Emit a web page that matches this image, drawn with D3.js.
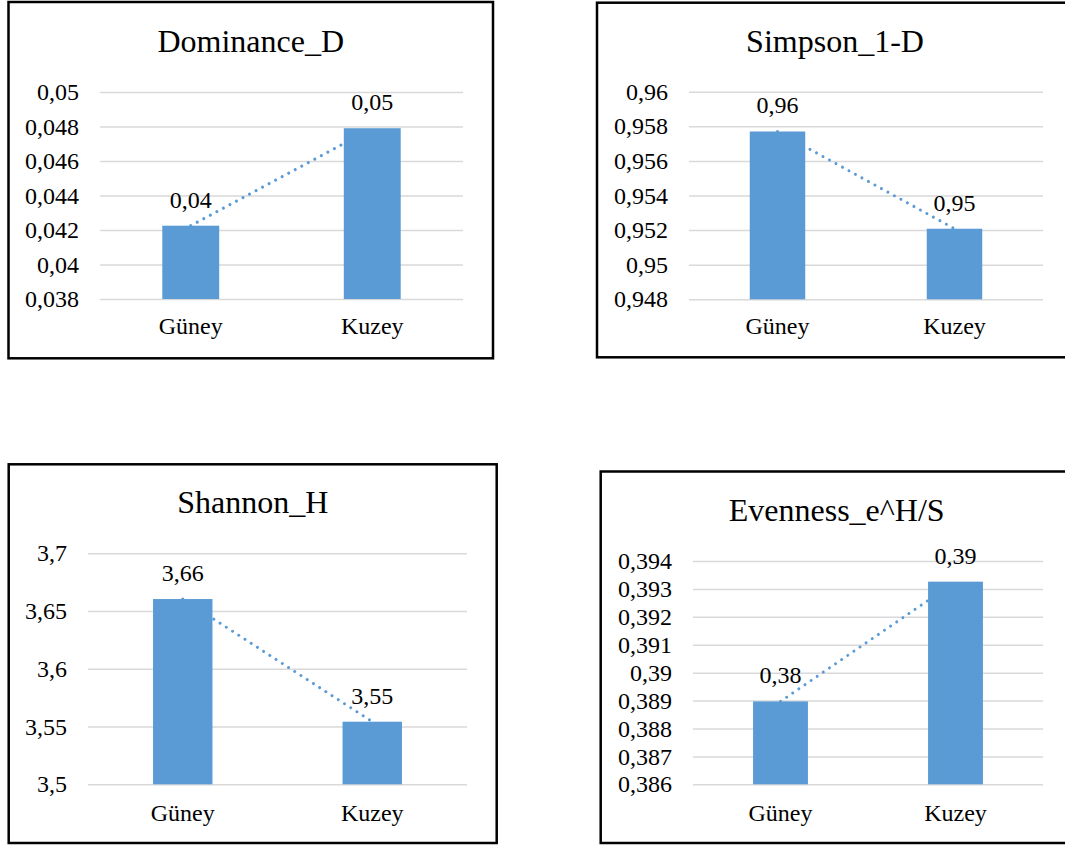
<!DOCTYPE html>
<html>
<head>
<meta charset="utf-8">
<script src="https://cdn.jsdelivr.net/npm/d3@7"></script>
<style>
  html, body { margin: 0; padding: 0; background: #fff; }
  svg { display: block; }
  text { font-family: "Liberation Serif", serif; fill: #000; }
</style>
</head>
<body>
<svg id="chart" width="1065" height="845"></svg>
<script>
// ---- data ----
const categories = ["Güney", "Kuzey"];

const dominanceValues = [0.04225, 0.0479];
const dominanceLabels = ["0,04", "0,05"];
const dominanceTicks = [0.038, 0.040, 0.042, 0.044, 0.046, 0.048, 0.050];

const simpsonValues = [0.9577, 0.95208];
const simpsonLabels = ["0,96", "0,95"];
const simpsonTicks = [0.948, 0.950, 0.952, 0.954, 0.956, 0.958, 0.960];

const shannonValues = [3.6604, 3.5542];
const shannonLabels = ["3,66", "3,55"];
const shannonTicks = [3.50, 3.55, 3.60, 3.65, 3.70];

const evennessValues = [0.38897, 0.39326];
const evennessLabels = ["0,38", "0,39"];
const evennessTicks = [0.386, 0.387, 0.388, 0.389, 0.390, 0.391, 0.392, 0.393, 0.394];

const titles = ["Dominance_D", "Simpson_1-D", "Shannon_H", "Evenness_e^H/S"];

// ---- styling ----
const serif = "Liberation Serif";
const barColor = "#5B9BD5";
const gridColor = "#D9D9D9";
const trCommaFormat = d3.formatLocale({ decimal: ",", thousands: ".", grouping: [3], currency: ["", ""] }).format("~r");

// ---- panel layout (frame box and plot area of each chart) ----
const panels = [
  { title: titles[0], values: dominanceValues, labels: dominanceLabels, ticks: dominanceTicks,
    frame: { x: 8.5, y: 2, w: 484.5, h: 356.3 }, titleY: 51.7,
    plot: { left: 100, right: 463, top: 92, bottom: 299 }, catY: 334 },
  { title: titles[1], values: simpsonValues, labels: simpsonLabels, ticks: simpsonTicks,
    frame: { x: 597, y: 2.7, w: 476, h: 354.6 }, titleY: 51.7,
    plot: { left: 689, right: 1043, top: 91.7, bottom: 299.3 }, catY: 334 },
  { title: titles[2], values: shannonValues, labels: shannonLabels, ticks: shannonTicks,
    frame: { x: 8.7, y: 464.3, w: 488, h: 378.7 }, titleY: 512.7,
    plot: { left: 88, right: 467, top: 553.3, bottom: 784.3 }, catY: 821 },
  { title: titles[3], values: evennessValues, labels: evennessLabels, ticks: evennessTicks,
    frame: { x: 600.7, y: 471.5, w: 472, h: 371.5 }, titleY: 521,
    plot: { left: 693, right: 1043, top: 561, bottom: 784.3 }, catY: 821 }
];

const svg = d3.select("#chart");

function drawPanel(p) {
  const g = svg.append("g")
    .attr("font-family", serif);

  // outer frame
  g.append("rect")
    .attr("x", p.frame.x).attr("y", p.frame.y)
    .attr("width", p.frame.w).attr("height", p.frame.h)
    .attr("fill", "#fff").attr("stroke", "#000").attr("stroke-width", 2.5);

  // title
  g.append("text")
    .attr("x", p.frame.x + p.frame.w / 2).attr("y", p.titleY)
    .attr("text-anchor", "middle")
    .attr("font-size", 32)
    .text(p.title);

  const x = d3.scaleBand().domain(categories)
    .range([p.plot.left, p.plot.right]).paddingInner(0).paddingOuter(0);
  const y = d3.scaleLinear()
    .domain([p.ticks[0], p.ticks[p.ticks.length - 1]])
    .range([p.plot.bottom, p.plot.top]);

  // value axis with horizontal gridlines
  const yAxis = d3.axisLeft(y)
    .tickValues(p.ticks)
    .tickSize(-(p.plot.right - p.plot.left))
    .tickPadding(21)
    .tickFormat(trCommaFormat);
  const ag = g.append("g")
    .attr("transform", `translate(${p.plot.left},0)`)
    .call(yAxis)
    .attr("font-family", serif)
    .attr("font-size", 24);
  ag.select(".domain").remove();
  ag.selectAll(".tick line").attr("stroke", gridColor).attr("stroke-width", 1.5);
  ag.selectAll(".tick text")
    .attr("font-family", serif)
    .attr("font-size", 24)
    .attr("fill", "#000");

  const barW = x.bandwidth() / 3.19;
  const cx = d => x(d) + x.bandwidth() / 2;
  const pts = categories.map((c, i) => [cx(c), y(p.values[i])]);

  // dotted trend line between the two bar tops (sits behind the bars)
  g.append("path")
    .attr("d", d3.line()(pts))
    .attr("fill", "none")
    .attr("stroke", barColor)
    .attr("stroke-width", 3)
    .attr("stroke-linecap", "round")
    .attr("stroke-dasharray", "0.01 7.4");

  // bars
  g.selectAll("rect.bar")
    .data(categories)
    .join("rect")
    .attr("class", "bar")
    .attr("x", d => cx(d) - barW / 2)
    .attr("width", barW)
    .attr("y", (d, i) => y(p.values[i]))
    .attr("height", (d, i) => y.range()[0] - y(p.values[i]))
    .attr("fill", barColor);

  // data labels
  g.selectAll("text.vlabel")
    .data(categories)
    .join("text")
    .attr("class", "vlabel")
    .attr("x", d => cx(d))
    .attr("y", (d, i) => y(p.values[i]) - 18)
    .attr("text-anchor", "middle")
    .attr("font-size", 24)
    .text((d, i) => p.labels[i]);

  // category labels
  g.selectAll("text.cat")
    .data(categories)
    .join("text")
    .attr("class", "cat")
    .attr("x", d => cx(d))
    .attr("y", p.catY)
    .attr("text-anchor", "middle")
    .attr("font-size", 24)
    .text(d => d);
}

panels.forEach(drawPanel);
</script>
</body>
</html>
